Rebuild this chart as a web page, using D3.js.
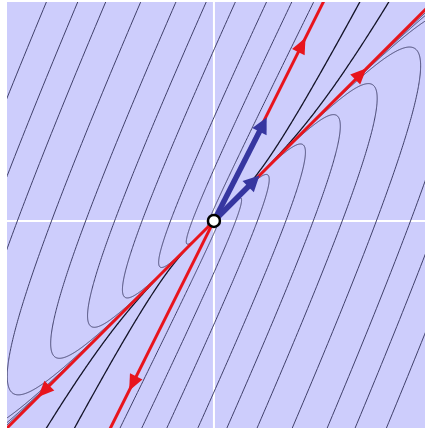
<!DOCTYPE html>
<html>
<head>
<meta charset="utf-8">
<script src="https://cdn.jsdelivr.net/npm/d3@7"></script>
<style>
  body { margin: 0; background: #fff; }
</style>
</head>
<body>
<svg id="chart" width="425" height="431"></svg>
<script>
// linear system x' = A x  (eigenvalues 1 and 5, eigenvectors (1,1) and (1,2))
var matrixA = [[-3, 4], [-8, 9]];

// visible window
var xDomain = [-4, 4.08];
var yDomain = [-4, 4.23];

// loop trajectories, given by where they cross the positive x axis
// (each one is drawn together with its mirror image through the origin)
var axisSeeds = [0.10, 0.42, 0.84, 1.39, 1.92, 2.48, 3.14, 3.80];
// loop trajectories that cross the axis outside the window: one point each
var edgeSeeds = [[3.90, -1.12], [3.88, -2.67]];
// trajectories between the two straight-line solutions
var middleSeeds = [[2.82, 4.23], [3.38, 4.23]];

// straight-line solutions and the position of their arrowheads
var rayDirs = [[1, 1], [-1, -1], [1, 2], [-1, -2]];
var rayArrowAt = [2.95, 3.4, 1.77, 1.64];

// eigenvectors drawn as blue arrows
var eigenVectors = [[0.88, 0.88], [1.02, 2.0]];

var svg = d3.select("#chart");
var plot = { left: 7, top: 2, right: 425, bottom: 428 };

var x = d3.scaleLinear().domain(xDomain).range([plot.left, plot.right]);
var y = d3.scaleLinear().domain(yDomain).range([plot.bottom, plot.top]);

svg.append("defs").append("clipPath").attr("id", "clip")
  .append("rect")
  .attr("x", plot.left).attr("y", plot.top)
  .attr("width", plot.right - plot.left).attr("height", plot.bottom - plot.top);

svg.append("rect")
  .attr("x", plot.left).attr("y", plot.top)
  .attr("width", plot.right - plot.left).attr("height", plot.bottom - plot.top)
  .attr("fill", "#cdcdfc");

var g = svg.append("g").attr("clip-path", "url(#clip)");

// axes
g.append("line")
  .attr("x1", plot.left).attr("x2", plot.right)
  .attr("y1", y(0)).attr("y2", y(0))
  .attr("stroke", "#fff").attr("stroke-width", 2);
g.append("line")
  .attr("x1", x(0)).attr("x2", x(0))
  .attr("y1", plot.top).attr("y2", plot.bottom)
  .attr("stroke", "#fff").attr("stroke-width", 2);

function field(p) {
  return [matrixA[0][0] * p[0] + matrixA[0][1] * p[1],
          matrixA[1][0] * p[0] + matrixA[1][1] * p[1]];
}

function rk4(p, h) {
  var k1 = field(p);
  var k2 = field([p[0] + h / 2 * k1[0], p[1] + h / 2 * k1[1]]);
  var k3 = field([p[0] + h / 2 * k2[0], p[1] + h / 2 * k2[1]]);
  var k4 = field([p[0] + h * k3[0], p[1] + h * k3[1]]);
  return [p[0] + h / 6 * (k1[0] + 2 * k2[0] + 2 * k3[0] + k4[0]),
          p[1] + h / 6 * (k1[1] + 2 * k2[1] + 2 * k3[1] + k4[1])];
}

// integrate backwards to the origin and forwards out of the window
function trajectory(p0) {
  var back = [], fwd = [], p = p0, i;
  for (i = 0; i < 4000; i++) {
    p = rk4(p, -0.003);
    back.push(p);
    if (Math.hypot(p[0], p[1]) < 0.002) break;
  }
  back.push([0, 0]);
  p = p0;
  for (i = 0; i < 4000; i++) {
    p = rk4(p, 0.003);
    fwd.push(p);
    if (Math.abs(p[0]) > 7 || Math.abs(p[1]) > 7) break;
  }
  return back.reverse().concat([p0], fwd);
}

var line = d3.line().x(function(d) { return x(d[0]); }).y(function(d) { return y(d[1]); });

var seeds = axisSeeds.map(function(s) { return [s, 0]; }).concat(edgeSeeds);
seeds.forEach(function(s) {
  [s, [-s[0], -s[1]]].forEach(function(p0) {
    g.append("path")
      .attr("d", line(trajectory(p0)))
      .attr("fill", "none")
      .attr("stroke", "#40406a")
      .attr("stroke-width", 1);
  });
});

middleSeeds.forEach(function(s) {
  [s, [-s[0], -s[1]]].forEach(function(p0) {
    g.append("path")
      .attr("d", line(trajectory(p0)))
      .attr("fill", "none")
      .attr("stroke", "#141428")
      .attr("stroke-width", 1.3);
  });
});

// triangle head with its tip at (px,py) pointing along (ux,uy) in screen space
function head(px, py, ux, uy, len, half) {
  var n = Math.hypot(ux, uy); ux /= n; uy /= n;
  var bx = px - ux * len, by = py - uy * len;
  return "M" + px + "," + py +
    "L" + (bx - uy * half) + "," + (by + ux * half) +
    "L" + (bx + uy * half) + "," + (by - ux * half) + "Z";
}

// straight-line solutions
rayDirs.forEach(function(d, i) {
  g.append("line")
    .attr("x1", x(0)).attr("y1", y(0))
    .attr("x2", x(d[0] * 10)).attr("y2", y(d[1] * 10))
    .attr("stroke", "#e8141c").attr("stroke-width", 3);
  var t = rayArrowAt[i];
  var px = x(d[0] * t), py = y(d[1] * t);
  var ux = x(d[0]) - x(0), uy = y(d[1]) - y(0);
  g.append("path")
    .attr("d", head(px, py, ux, uy, 16, 7))
    .attr("fill", "#e8141c");
});

// eigenvectors
eigenVectors.forEach(function(v) {
  var tx = x(v[0]), ty = y(v[1]);
  var ux = tx - x(0), uy = ty - y(0);
  var n = Math.hypot(ux, uy);
  g.append("line")
    .attr("x1", x(0)).attr("y1", y(0))
    .attr("x2", tx - ux / n * 10).attr("y2", ty - uy / n * 10)
    .attr("stroke", "#3636a0").attr("stroke-width", 5.5);
  g.append("path")
    .attr("d", head(tx, ty, ux, uy, 16, 8))
    .attr("fill", "#3636a0");
});

g.append("circle")
  .attr("cx", x(0)).attr("cy", y(0)).attr("r", 6)
  .attr("fill", "#fff").attr("stroke", "#000").attr("stroke-width", 2.5);
</script>
</body>
</html>
